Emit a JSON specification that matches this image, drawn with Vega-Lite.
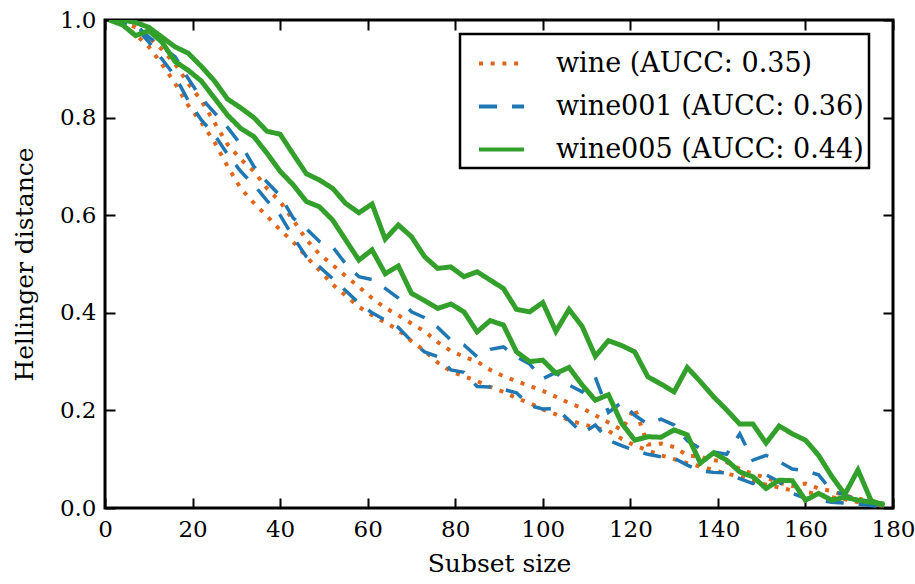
{
  "$schema": "https://vega.github.io/schema/vega-lite/v6.json",
  "width": 788,
  "height": 488,
  "autosize": "none",
  "padding": {"left": 105, "top": 20, "right": 22, "bottom": 76},
  "background": "white",
  "config": {
    "view": {"stroke": "black", "strokeWidth": 3},
    "axis": {
      "domain": false, "grid": false, "ticks": true, "tickSize": -10, "tickWidth": 2, "tickColor": "black",
      "labelFont": "DejaVu Serif", "labelFontSize": 23, "labelColor": "black",
      "titleFont": "DejaVu Serif", "titleFontSize": 25, "titleFontWeight": "normal", "titleColor": "black"
    },
    "legend": {
      "orient": "none", "legendX": 355, "legendY": 14,
      "strokeColor": "black", "strokeWidth": 2.5, "fillColor": "white", "padding": 5, "symbolOffset": 12,
      "symbolType": "stroke", "symbolSize": 2025, "symbolStrokeWidth": 4,
      "labelFont": "DejaVu Serif", "labelFontSize": 27, "labelLimit": 500,
      "labelColor": "black", "labelOffset": 30, "rowPadding": 5
    }
  },
  "datasets": {
    "d": [
{"s":"wine","b":"hi","x":1,"y":1.0},{"s":"wine","b":"hi","x":4,"y":0.995},{"s":"wine","b":"hi","x":7,"y":0.985},{"s":"wine","b":"hi","x":10,"y":0.965},{"s":"wine","b":"hi","x":13,"y":0.94},{"s":"wine","b":"hi","x":16,"y":0.91},{"s":"wine","b":"hi","x":19,"y":0.87},{"s":"wine","b":"hi","x":22,"y":0.835},{"s":"wine","b":"hi","x":25,"y":0.79},{"s":"wine","b":"hi","x":28,"y":0.745},
{"s":"wine","b":"hi","x":31,"y":0.715},{"s":"wine","b":"hi","x":34,"y":0.69},{"s":"wine","b":"hi","x":37,"y":0.655},{"s":"wine","b":"hi","x":40,"y":0.628},{"s":"wine","b":"hi","x":43,"y":0.59},{"s":"wine","b":"hi","x":46,"y":0.55},{"s":"wine","b":"hi","x":49,"y":0.52},{"s":"wine","b":"hi","x":52,"y":0.498},{"s":"wine","b":"hi","x":55,"y":0.475},{"s":"wine","b":"hi","x":58,"y":0.453},
{"s":"wine","b":"hi","x":61,"y":0.43},{"s":"wine","b":"hi","x":64,"y":0.41},{"s":"wine","b":"hi","x":67,"y":0.395},{"s":"wine","b":"hi","x":70,"y":0.378},{"s":"wine","b":"hi","x":73,"y":0.362},{"s":"wine","b":"hi","x":76,"y":0.34},{"s":"wine","b":"hi","x":79,"y":0.322},{"s":"wine","b":"hi","x":82,"y":0.31},{"s":"wine","b":"hi","x":85,"y":0.30},{"s":"wine","b":"hi","x":88,"y":0.283},
{"s":"wine","b":"hi","x":91,"y":0.27},{"s":"wine","b":"hi","x":94,"y":0.26},{"s":"wine","b":"hi","x":97,"y":0.25},{"s":"wine","b":"hi","x":100,"y":0.24},{"s":"wine","b":"hi","x":103,"y":0.228},{"s":"wine","b":"hi","x":106,"y":0.215},{"s":"wine","b":"hi","x":109,"y":0.205},{"s":"wine","b":"hi","x":112,"y":0.19},{"s":"wine","b":"hi","x":115,"y":0.175},{"s":"wine","b":"hi","x":118,"y":0.16},
{"s":"wine","b":"hi","x":121,"y":0.205},{"s":"wine","b":"hi","x":124,"y":0.13},{"s":"wine","b":"hi","x":127,"y":0.132},{"s":"wine","b":"hi","x":130,"y":0.125},{"s":"wine","b":"hi","x":133,"y":0.108},{"s":"wine","b":"hi","x":136,"y":0.105},{"s":"wine","b":"hi","x":139,"y":0.098},{"s":"wine","b":"hi","x":142,"y":0.094},{"s":"wine","b":"hi","x":145,"y":0.08},{"s":"wine","b":"hi","x":148,"y":0.07},
{"s":"wine","b":"hi","x":151,"y":0.062},{"s":"wine","b":"hi","x":154,"y":0.052},{"s":"wine","b":"hi","x":157,"y":0.045},{"s":"wine","b":"hi","x":160,"y":0.05},{"s":"wine","b":"hi","x":163,"y":0.04},{"s":"wine","b":"hi","x":166,"y":0.035},{"s":"wine","b":"hi","x":169,"y":0.025},{"s":"wine","b":"hi","x":172,"y":0.02},{"s":"wine","b":"hi","x":175,"y":0.012},{"s":"wine","b":"hi","x":178,"y":0.005},
{"s":"wine","b":"lo","x":1,"y":1.0},{"s":"wine","b":"lo","x":4,"y":0.99},{"s":"wine","b":"lo","x":7,"y":0.97},{"s":"wine","b":"lo","x":10,"y":0.945},{"s":"wine","b":"lo","x":13,"y":0.91},{"s":"wine","b":"lo","x":16,"y":0.87},{"s":"wine","b":"lo","x":19,"y":0.825},{"s":"wine","b":"lo","x":22,"y":0.79},{"s":"wine","b":"lo","x":25,"y":0.75},{"s":"wine","b":"lo","x":28,"y":0.70},
{"s":"wine","b":"lo","x":31,"y":0.655},{"s":"wine","b":"lo","x":34,"y":0.625},{"s":"wine","b":"lo","x":37,"y":0.598},{"s":"wine","b":"lo","x":40,"y":0.57},{"s":"wine","b":"lo","x":43,"y":0.545},{"s":"wine","b":"lo","x":46,"y":0.515},{"s":"wine","b":"lo","x":49,"y":0.487},{"s":"wine","b":"lo","x":52,"y":0.458},{"s":"wine","b":"lo","x":55,"y":0.435},{"s":"wine","b":"lo","x":58,"y":0.412},
{"s":"wine","b":"lo","x":61,"y":0.395},{"s":"wine","b":"lo","x":64,"y":0.38},{"s":"wine","b":"lo","x":67,"y":0.365},{"s":"wine","b":"lo","x":70,"y":0.342},{"s":"wine","b":"lo","x":73,"y":0.322},{"s":"wine","b":"lo","x":76,"y":0.298},{"s":"wine","b":"lo","x":79,"y":0.28},{"s":"wine","b":"lo","x":82,"y":0.27},{"s":"wine","b":"lo","x":85,"y":0.26},{"s":"wine","b":"lo","x":88,"y":0.248},
{"s":"wine","b":"lo","x":91,"y":0.238},{"s":"wine","b":"lo","x":94,"y":0.225},{"s":"wine","b":"lo","x":97,"y":0.215},{"s":"wine","b":"lo","x":100,"y":0.202},{"s":"wine","b":"lo","x":103,"y":0.192},{"s":"wine","b":"lo","x":106,"y":0.18},{"s":"wine","b":"lo","x":109,"y":0.172},{"s":"wine","b":"lo","x":112,"y":0.165},{"s":"wine","b":"lo","x":115,"y":0.158},{"s":"wine","b":"lo","x":118,"y":0.142},
{"s":"wine","b":"lo","x":121,"y":0.128},{"s":"wine","b":"lo","x":124,"y":0.118},{"s":"wine","b":"lo","x":127,"y":0.108},{"s":"wine","b":"lo","x":130,"y":0.1},{"s":"wine","b":"lo","x":133,"y":0.092},{"s":"wine","b":"lo","x":136,"y":0.085},{"s":"wine","b":"lo","x":139,"y":0.078},{"s":"wine","b":"lo","x":142,"y":0.07},{"s":"wine","b":"lo","x":145,"y":0.065},{"s":"wine","b":"lo","x":148,"y":0.055},
{"s":"wine","b":"lo","x":151,"y":0.048},{"s":"wine","b":"lo","x":154,"y":0.042},{"s":"wine","b":"lo","x":157,"y":0.036},{"s":"wine","b":"lo","x":160,"y":0.033},{"s":"wine","b":"lo","x":163,"y":0.028},{"s":"wine","b":"lo","x":166,"y":0.022},{"s":"wine","b":"lo","x":169,"y":0.018},{"s":"wine","b":"lo","x":172,"y":0.012},{"s":"wine","b":"lo","x":175,"y":0.008},{"s":"wine","b":"lo","x":178,"y":0.004},
{"s":"wine001","b":"hi","x":1,"y":1.0},{"s":"wine001","b":"hi","x":4,"y":1.0},{"s":"wine001","b":"hi","x":7,"y":0.99},{"s":"wine001","b":"hi","x":10,"y":0.965},{"s":"wine001","b":"hi","x":13,"y":0.945},{"s":"wine001","b":"hi","x":16,"y":0.925},{"s":"wine001","b":"hi","x":19,"y":0.88},{"s":"wine001","b":"hi","x":22,"y":0.84},{"s":"wine001","b":"hi","x":25,"y":0.81},{"s":"wine001","b":"hi","x":28,"y":0.78},
{"s":"wine001","b":"hi","x":31,"y":0.745},{"s":"wine001","b":"hi","x":34,"y":0.70},{"s":"wine001","b":"hi","x":37,"y":0.668},{"s":"wine001","b":"hi","x":40,"y":0.64},{"s":"wine001","b":"hi","x":43,"y":0.594},{"s":"wine001","b":"hi","x":46,"y":0.572},{"s":"wine001","b":"hi","x":49,"y":0.546},{"s":"wine001","b":"hi","x":52,"y":0.535},{"s":"wine001","b":"hi","x":55,"y":0.50},{"s":"wine001","b":"hi","x":58,"y":0.474},
{"s":"wine001","b":"hi","x":61,"y":0.468},{"s":"wine001","b":"hi","x":64,"y":0.45},{"s":"wine001","b":"hi","x":67,"y":0.43},{"s":"wine001","b":"hi","x":70,"y":0.402},{"s":"wine001","b":"hi","x":73,"y":0.39},{"s":"wine001","b":"hi","x":76,"y":0.37},{"s":"wine001","b":"hi","x":79,"y":0.344},{"s":"wine001","b":"hi","x":82,"y":0.334},{"s":"wine001","b":"hi","x":85,"y":0.31},{"s":"wine001","b":"hi","x":88,"y":0.325},
{"s":"wine001","b":"hi","x":91,"y":0.33},{"s":"wine001","b":"hi","x":94,"y":0.31},{"s":"wine001","b":"hi","x":97,"y":0.295},{"s":"wine001","b":"hi","x":100,"y":0.265},{"s":"wine001","b":"hi","x":103,"y":0.278},{"s":"wine001","b":"hi","x":106,"y":0.252},{"s":"wine001","b":"hi","x":109,"y":0.238},{"s":"wine001","b":"hi","x":112,"y":0.268},{"s":"wine001","b":"hi","x":115,"y":0.196},{"s":"wine001","b":"hi","x":118,"y":0.216},
{"s":"wine001","b":"hi","x":121,"y":0.19},{"s":"wine001","b":"hi","x":124,"y":0.172},{"s":"wine001","b":"hi","x":127,"y":0.182},{"s":"wine001","b":"hi","x":130,"y":0.17},{"s":"wine001","b":"hi","x":133,"y":0.138},{"s":"wine001","b":"hi","x":136,"y":0.122},{"s":"wine001","b":"hi","x":139,"y":0.115},{"s":"wine001","b":"hi","x":142,"y":0.11},{"s":"wine001","b":"hi","x":145,"y":0.152},{"s":"wine001","b":"hi","x":148,"y":0.098},
{"s":"wine001","b":"hi","x":151,"y":0.108},{"s":"wine001","b":"hi","x":154,"y":0.095},{"s":"wine001","b":"hi","x":157,"y":0.08},{"s":"wine001","b":"hi","x":160,"y":0.076},{"s":"wine001","b":"hi","x":163,"y":0.068},{"s":"wine001","b":"hi","x":166,"y":0.035},{"s":"wine001","b":"hi","x":169,"y":0.027},{"s":"wine001","b":"hi","x":172,"y":0.015},{"s":"wine001","b":"hi","x":175,"y":0.01},{"s":"wine001","b":"hi","x":178,"y":0.005},
{"s":"wine001","b":"lo","x":1,"y":1.0},{"s":"wine001","b":"lo","x":4,"y":0.995},{"s":"wine001","b":"lo","x":7,"y":0.985},{"s":"wine001","b":"lo","x":10,"y":0.955},{"s":"wine001","b":"lo","x":13,"y":0.92},{"s":"wine001","b":"lo","x":16,"y":0.885},{"s":"wine001","b":"lo","x":19,"y":0.835},{"s":"wine001","b":"lo","x":22,"y":0.795},{"s":"wine001","b":"lo","x":25,"y":0.765},{"s":"wine001","b":"lo","x":28,"y":0.725},
{"s":"wine001","b":"lo","x":31,"y":0.69},{"s":"wine001","b":"lo","x":34,"y":0.662},{"s":"wine001","b":"lo","x":37,"y":0.63},{"s":"wine001","b":"lo","x":40,"y":0.60},{"s":"wine001","b":"lo","x":43,"y":0.555},{"s":"wine001","b":"lo","x":46,"y":0.515},{"s":"wine001","b":"lo","x":49,"y":0.494},{"s":"wine001","b":"lo","x":52,"y":0.47},{"s":"wine001","b":"lo","x":55,"y":0.445},{"s":"wine001","b":"lo","x":58,"y":0.42},
{"s":"wine001","b":"lo","x":61,"y":0.40},{"s":"wine001","b":"lo","x":64,"y":0.385},{"s":"wine001","b":"lo","x":67,"y":0.37},{"s":"wine001","b":"lo","x":70,"y":0.342},{"s":"wine001","b":"lo","x":73,"y":0.32},{"s":"wine001","b":"lo","x":76,"y":0.31},{"s":"wine001","b":"lo","x":79,"y":0.283},{"s":"wine001","b":"lo","x":82,"y":0.278},{"s":"wine001","b":"lo","x":85,"y":0.249},{"s":"wine001","b":"lo","x":88,"y":0.248},
{"s":"wine001","b":"lo","x":91,"y":0.243},{"s":"wine001","b":"lo","x":94,"y":0.236},{"s":"wine001","b":"lo","x":97,"y":0.21},{"s":"wine001","b":"lo","x":100,"y":0.203},{"s":"wine001","b":"lo","x":103,"y":0.204},{"s":"wine001","b":"lo","x":106,"y":0.18},{"s":"wine001","b":"lo","x":109,"y":0.153},{"s":"wine001","b":"lo","x":112,"y":0.17},{"s":"wine001","b":"lo","x":115,"y":0.139},{"s":"wine001","b":"lo","x":118,"y":0.128},
{"s":"wine001","b":"lo","x":121,"y":0.118},{"s":"wine001","b":"lo","x":124,"y":0.11},{"s":"wine001","b":"lo","x":127,"y":0.105},{"s":"wine001","b":"lo","x":130,"y":0.102},{"s":"wine001","b":"lo","x":133,"y":0.088},{"s":"wine001","b":"lo","x":136,"y":0.076},{"s":"wine001","b":"lo","x":139,"y":0.073},{"s":"wine001","b":"lo","x":142,"y":0.072},{"s":"wine001","b":"lo","x":145,"y":0.06},{"s":"wine001","b":"lo","x":148,"y":0.05},
{"s":"wine001","b":"lo","x":151,"y":0.068},{"s":"wine001","b":"lo","x":154,"y":0.054},{"s":"wine001","b":"lo","x":157,"y":0.03},{"s":"wine001","b":"lo","x":160,"y":0.02},{"s":"wine001","b":"lo","x":163,"y":0.016},{"s":"wine001","b":"lo","x":166,"y":0.012},{"s":"wine001","b":"lo","x":169,"y":0.01},{"s":"wine001","b":"lo","x":172,"y":0.008},{"s":"wine001","b":"lo","x":175,"y":0.005},{"s":"wine001","b":"lo","x":178,"y":0.003},
{"s":"wine005","b":"hi","x":1,"y":1.0},{"s":"wine005","b":"hi","x":4,"y":1.0},{"s":"wine005","b":"hi","x":7,"y":0.995},{"s":"wine005","b":"hi","x":10,"y":0.985},{"s":"wine005","b":"hi","x":13,"y":0.965},{"s":"wine005","b":"hi","x":16,"y":0.945},{"s":"wine005","b":"hi","x":19,"y":0.932},{"s":"wine005","b":"hi","x":22,"y":0.905},{"s":"wine005","b":"hi","x":25,"y":0.875},{"s":"wine005","b":"hi","x":28,"y":0.838},
{"s":"wine005","b":"hi","x":31,"y":0.82},{"s":"wine005","b":"hi","x":34,"y":0.80},{"s":"wine005","b":"hi","x":37,"y":0.772},{"s":"wine005","b":"hi","x":40,"y":0.766},{"s":"wine005","b":"hi","x":43,"y":0.725},{"s":"wine005","b":"hi","x":46,"y":0.685},{"s":"wine005","b":"hi","x":49,"y":0.672},{"s":"wine005","b":"hi","x":52,"y":0.655},{"s":"wine005","b":"hi","x":55,"y":0.624},{"s":"wine005","b":"hi","x":58,"y":0.605},
{"s":"wine005","b":"hi","x":61,"y":0.623},{"s":"wine005","b":"hi","x":64,"y":0.551},{"s":"wine005","b":"hi","x":67,"y":0.58},{"s":"wine005","b":"hi","x":70,"y":0.556},{"s":"wine005","b":"hi","x":73,"y":0.515},{"s":"wine005","b":"hi","x":76,"y":0.491},{"s":"wine005","b":"hi","x":79,"y":0.494},{"s":"wine005","b":"hi","x":82,"y":0.474},{"s":"wine005","b":"hi","x":85,"y":0.484},{"s":"wine005","b":"hi","x":88,"y":0.467},
{"s":"wine005","b":"hi","x":91,"y":0.45},{"s":"wine005","b":"hi","x":94,"y":0.407},{"s":"wine005","b":"hi","x":97,"y":0.402},{"s":"wine005","b":"hi","x":100,"y":0.421},{"s":"wine005","b":"hi","x":103,"y":0.362},{"s":"wine005","b":"hi","x":106,"y":0.407},{"s":"wine005","b":"hi","x":109,"y":0.372},{"s":"wine005","b":"hi","x":112,"y":0.311},{"s":"wine005","b":"hi","x":115,"y":0.343},{"s":"wine005","b":"hi","x":118,"y":0.333},
{"s":"wine005","b":"hi","x":121,"y":0.32},{"s":"wine005","b":"hi","x":124,"y":0.269},{"s":"wine005","b":"hi","x":127,"y":0.254},{"s":"wine005","b":"hi","x":130,"y":0.238},{"s":"wine005","b":"hi","x":133,"y":0.288},{"s":"wine005","b":"hi","x":136,"y":0.259},{"s":"wine005","b":"hi","x":139,"y":0.228},{"s":"wine005","b":"hi","x":142,"y":0.201},{"s":"wine005","b":"hi","x":145,"y":0.172},{"s":"wine005","b":"hi","x":148,"y":0.172},
{"s":"wine005","b":"hi","x":151,"y":0.133},{"s":"wine005","b":"hi","x":154,"y":0.168},{"s":"wine005","b":"hi","x":157,"y":0.152},{"s":"wine005","b":"hi","x":160,"y":0.139},{"s":"wine005","b":"hi","x":163,"y":0.108},{"s":"wine005","b":"hi","x":166,"y":0.065},{"s":"wine005","b":"hi","x":169,"y":0.028},{"s":"wine005","b":"hi","x":172,"y":0.078},{"s":"wine005","b":"hi","x":175,"y":0.015},{"s":"wine005","b":"hi","x":178,"y":0.005},
{"s":"wine005","b":"lo","x":1,"y":1.0},{"s":"wine005","b":"lo","x":4,"y":0.99},{"s":"wine005","b":"lo","x":7,"y":0.968},{"s":"wine005","b":"lo","x":10,"y":0.978},{"s":"wine005","b":"lo","x":13,"y":0.955},{"s":"wine005","b":"lo","x":16,"y":0.915},{"s":"wine005","b":"lo","x":19,"y":0.897},{"s":"wine005","b":"lo","x":22,"y":0.875},{"s":"wine005","b":"lo","x":25,"y":0.84},{"s":"wine005","b":"lo","x":28,"y":0.805},
{"s":"wine005","b":"lo","x":31,"y":0.778},{"s":"wine005","b":"lo","x":34,"y":0.761},{"s":"wine005","b":"lo","x":37,"y":0.727},{"s":"wine005","b":"lo","x":40,"y":0.69},{"s":"wine005","b":"lo","x":43,"y":0.662},{"s":"wine005","b":"lo","x":46,"y":0.628},{"s":"wine005","b":"lo","x":49,"y":0.617},{"s":"wine005","b":"lo","x":52,"y":0.59},{"s":"wine005","b":"lo","x":55,"y":0.549},{"s":"wine005","b":"lo","x":58,"y":0.508},
{"s":"wine005","b":"lo","x":61,"y":0.529},{"s":"wine005","b":"lo","x":64,"y":0.48},{"s":"wine005","b":"lo","x":67,"y":0.496},{"s":"wine005","b":"lo","x":70,"y":0.44},{"s":"wine005","b":"lo","x":73,"y":0.425},{"s":"wine005","b":"lo","x":76,"y":0.409},{"s":"wine005","b":"lo","x":79,"y":0.418},{"s":"wine005","b":"lo","x":82,"y":0.402},{"s":"wine005","b":"lo","x":85,"y":0.361},{"s":"wine005","b":"lo","x":88,"y":0.384},
{"s":"wine005","b":"lo","x":91,"y":0.375},{"s":"wine005","b":"lo","x":94,"y":0.32},{"s":"wine005","b":"lo","x":97,"y":0.30},{"s":"wine005","b":"lo","x":100,"y":0.303},{"s":"wine005","b":"lo","x":103,"y":0.276},{"s":"wine005","b":"lo","x":106,"y":0.288},{"s":"wine005","b":"lo","x":109,"y":0.252},{"s":"wine005","b":"lo","x":112,"y":0.221},{"s":"wine005","b":"lo","x":115,"y":0.232},{"s":"wine005","b":"lo","x":118,"y":0.174},
{"s":"wine005","b":"lo","x":121,"y":0.139},{"s":"wine005","b":"lo","x":124,"y":0.146},{"s":"wine005","b":"lo","x":127,"y":0.145},{"s":"wine005","b":"lo","x":130,"y":0.16},{"s":"wine005","b":"lo","x":133,"y":0.15},{"s":"wine005","b":"lo","x":136,"y":0.092},{"s":"wine005","b":"lo","x":139,"y":0.113},{"s":"wine005","b":"lo","x":142,"y":0.098},{"s":"wine005","b":"lo","x":145,"y":0.074},{"s":"wine005","b":"lo","x":148,"y":0.064},
{"s":"wine005","b":"lo","x":151,"y":0.04},{"s":"wine005","b":"lo","x":154,"y":0.057},{"s":"wine005","b":"lo","x":157,"y":0.056},{"s":"wine005","b":"lo","x":160,"y":0.016},{"s":"wine005","b":"lo","x":163,"y":0.03},{"s":"wine005","b":"lo","x":166,"y":0.016},{"s":"wine005","b":"lo","x":169,"y":0.022},{"s":"wine005","b":"lo","x":172,"y":0.016},{"s":"wine005","b":"lo","x":175,"y":0.012},{"s":"wine005","b":"lo","x":178,"y":0.008}
    ]
  },
  "data": {"name": "d"},
  "encoding": {
    "x": {"field": "x", "type": "quantitative", "scale": {"domain": [0, 180], "nice": false}},
    "y": {"field": "y", "type": "quantitative", "scale": {"domain": [0, 1], "nice": false}}
  },
  "layer": [
    {
      "transform": [{"filter": "datum.s == 'wine'"}],
      "mark": {"type": "line", "clip": true, "strokeWidth": 4},
      "encoding": {
        "x": {"field": "x", "type": "quantitative", "axis": {"values": [0,20,40,60,80,100,120,140,160,180], "title": "Subset size", "labelPadding": 20, "labelFlush": false, "titlePadding": 10}},
        "y": {"field": "y", "type": "quantitative", "axis": {"values": [0,0.2,0.4,0.6,0.8,1.0], "format": ".1f", "title": "Hellinger distance", "labelPadding": 19, "labelFlush": false, "titlePadding": 22}},
        "color": {"field": "s", "type": "nominal", "scale": {"domain": ["wine","wine001","wine005"], "range": ["#e0661b","#1f78b4","#33a02c"]}, "legend": {"title": null, "labelExpr": "datum.label + (datum.label == 'wine' ? ' (AUCC: 0.35)' : datum.label == 'wine001' ? ' (AUCC: 0.36)' : ' (AUCC: 0.44)')"}},
        "strokeDash": {"field": "s", "type": "nominal", "scale": {"domain": ["wine","wine001","wine005"], "range": [[4,7.7],[18,15],[1,0]]}, "legend": {"title": null, "labelExpr": "datum.label + (datum.label == 'wine' ? ' (AUCC: 0.35)' : datum.label == 'wine001' ? ' (AUCC: 0.36)' : ' (AUCC: 0.44)')"}},
        "detail": {"field": "b", "type": "nominal"},
        "order": {"field": "x", "type": "quantitative"}
      }
    },
    {
      "transform": [{"filter": "datum.s == 'wine001'"}],
      "mark": {"type": "line", "clip": true, "strokeWidth": 3.5},
      "encoding": {
        "x": {"field": "x", "type": "quantitative", "axis": null},
        "y": {"field": "y", "type": "quantitative", "axis": null},
        "color": {"field": "s", "type": "nominal"},
        "strokeDash": {"field": "s", "type": "nominal"},
        "detail": {"field": "b", "type": "nominal"},
        "order": {"field": "x", "type": "quantitative"}
      }
    },
    {
      "transform": [{"filter": "datum.s == 'wine005'"}],
      "mark": {"type": "line", "clip": true, "strokeWidth": 5},
      "encoding": {
        "x": {"field": "x", "type": "quantitative", "axis": null},
        "y": {"field": "y", "type": "quantitative", "axis": null},
        "color": {"field": "s", "type": "nominal"},
        "strokeDash": {"field": "s", "type": "nominal"},
        "detail": {"field": "b", "type": "nominal"},
        "order": {"field": "x", "type": "quantitative"}
      }
    },
    {
      "mark": {"type": "point", "opacity": 0},
      "encoding": {
        "x": {"field": "x", "type": "quantitative", "axis": {"orient": "top", "values": [0,20,40,60,80,100,120,140,160,180], "labels": false, "title": null}},
        "y": {"field": "y", "type": "quantitative", "axis": {"orient": "right", "values": [0,0.2,0.4,0.6,0.8,1.0], "labels": false, "title": null}}
      }
    }
  ],
  "resolve": {"axis": {"x": "independent", "y": "independent"}}
}
